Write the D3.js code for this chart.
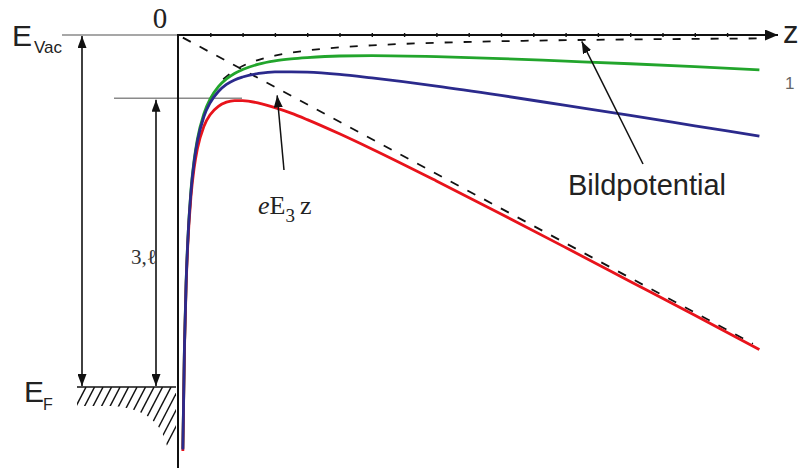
<!DOCTYPE html>
<html>
<head>
<meta charset="utf-8">
<script src="https://cdn.jsdelivr.net/npm/d3@7"></script>
<style>
  html, body { margin: 0; padding: 0; background: #fff; }
  svg { display: block; }
</style>
</head>
<body>
<svg id="chart" width="799" height="469"></svg>
<script>
// Potential energy in front of a metal surface: image potential plus applied fields.
// z in tick units, energy in the same length units below the vacuum level (E_Vac = 0).

const zSamples = [0.15, 0.2, 0.25, 0.3, 0.4, 0.5, 0.6, 0.8, 1.0, 1.25, 1.5, 1.75, 2, 2.5, 3, 3.5, 4, 5, 6, 8, 10, 12, 14, 16, 18];

// weak field (green)
const greenEnergy = [-12.81, -9.61, -7.69, -6.42, -4.82, -3.87, -3.23, -2.44, -1.97, -1.60, -1.36, -1.19, -1.07, -0.90, -0.80, -0.74, -0.70, -0.65, -0.64, -0.67, -0.73, -0.81, -0.89, -0.98, -1.08];
// medium field (blue)
const blueEnergy  = [-12.83, -9.63, -7.72, -6.45, -4.87, -3.92, -3.30, -2.53, -2.09, -1.75, -1.53, -1.39, -1.30, -1.19, -1.14, -1.14, -1.15, -1.22, -1.33, -1.58, -1.87, -2.18, -2.49, -2.81, -3.13];
// strong field (red)
const redEnergy   = [-12.88, -9.71, -7.81, -6.56, -5.01, -4.11, -3.52, -2.83, -2.46, -2.21, -2.08, -2.03, -2.03, -2.11, -2.25, -2.42, -2.62, -3.06, -3.53, -4.52, -5.54, -6.58, -7.63, -8.68, -9.74];

// image potential alone (dashed)
const imageZ      = [1.4, 1.75, 2, 2.5, 3, 4, 5, 6, 8, 10, 12, 14, 16, 18];
const imageEnergy = [-1.371, -1.097, -0.96, -0.768, -0.64, -0.48, -0.384, -0.32, -0.24, -0.192, -0.16, -0.137, -0.12, -0.107];

// field term eE3 z alone (dashed straight line)
const fieldZ      = [0.15, 17.8];
const fieldEnergy = [-0.08, -9.56];

// tick marks along the z axis
const zTicks = d3.range(1, 18);

// reference levels
const levelVac = 0;
const levelBarrier = -1.96;
const levelFermi = -10.9;

const svg = d3.select("#chart");
const x = d3.scaleLinear().domain([0, 18]).range([178, 759.4]);
const y = d3.scaleLinear().domain([0, -13]).range([35, 35 + 13 * 32.3]);

const SANS = "'Liberation Sans', Arial, Helvetica, sans-serif";
const SERIF = "'Liberation Serif', 'Times New Roman', serif";

// arrowhead markers
const defs = svg.append("defs");
function marker(id, len, half) {
  defs.append("marker")
    .attr("id", id)
    .attr("viewBox", `0 ${-half} ${len} ${2 * half}`)
    .attr("refX", len).attr("refY", 0)
    .attr("markerWidth", len).attr("markerHeight", 2 * half)
    .attr("markerUnits", "userSpaceOnUse")
    .attr("orient", "auto-start-reverse")
    .append("path")
    .attr("d", `M0,${-half}L${len},0L0,${half}Z`)
    .attr("fill", "#111");
}
marker("head", 12, 4.5);
marker("headAxis", 13, 5.5);

// grey reference lines (vacuum level and lowered barrier)
svg.append("line")
  .attr("x1", 62).attr("x2", x(0))
  .attr("y1", y(levelVac)).attr("y2", y(levelVac))
  .attr("stroke", "#8a8a8a").attr("stroke-width", 1.5);
svg.append("line")
  .attr("x1", 114).attr("x2", 242)
  .attr("y1", y(levelBarrier)).attr("y2", y(levelBarrier))
  .attr("stroke", "#8a8a8a").attr("stroke-width", 1.5);

// Fermi level with hatched metal
const fermiY = y(levelFermi);
defs.append("clipPath").attr("id", "metalClip")
  .append("path")
  .attr("d", `M77,${fermiY}H176V440L167,446C162,425 148,408 112,406H77Z`);
const hatch = svg.append("g").attr("clip-path", "url(#metalClip)");
d3.range(86, 215, 8.5).forEach(x0 => {
  hatch.append("line")
    .attr("x1", x0).attr("y1", fermiY)
    .attr("x2", x0 - 0.52 * 80).attr("y2", fermiY + 80)
    .attr("stroke", "#111").attr("stroke-width", 1.4);
});
svg.append("line")
  .attr("x1", 77).attr("x2", 176)
  .attr("y1", fermiY).attr("y2", fermiY)
  .attr("stroke", "#111").attr("stroke-width", 1.6);

// energy difference arrows
svg.append("line")
  .attr("x1", 82).attr("x2", 82)
  .attr("y1", y(levelVac) + 1).attr("y2", fermiY - 1)
  .attr("stroke", "#111").attr("stroke-width", 1.6)
  .attr("marker-start", "url(#head)").attr("marker-end", "url(#head)");
svg.append("line")
  .attr("x1", 156).attr("x2", 156)
  .attr("y1", y(levelBarrier) + 1.5).attr("y2", fermiY - 1)
  .attr("stroke", "#111").attr("stroke-width", 1.6)
  .attr("marker-start", "url(#head)").attr("marker-end", "url(#head)");

// dashed reference curves
const line = d3.line().x(d => x(d[0])).y(d => y(d[1]));
const curve = d3.line().x(d => x(d[0])).y(d => y(d[1])).curve(d3.curveMonotoneX);

svg.append("path")
  .datum(fieldZ.map((z, i) => [z, fieldEnergy[i]]))
  .attr("d", line)
  .attr("fill", "none").attr("stroke", "#111")
  .attr("stroke-width", 1.8).attr("stroke-dasharray", "9,10");
svg.append("path")
  .datum(imageZ.map((z, i) => [z, imageEnergy[i]]))
  .attr("d", curve)
  .attr("fill", "none").attr("stroke", "#111")
  .attr("stroke-width", 1.8).attr("stroke-dasharray", "8,11");

// total potential for the three fields
[[greenEnergy, "#22a52c"], [redEnergy, "#e8131b"], [blueEnergy, "#2b2a8c"]].forEach(([vals, col]) => {
  svg.append("path")
    .datum(zSamples.map((z, i) => [z, vals[i]]))
    .attr("d", curve)
    .attr("fill", "none").attr("stroke", col)
    .attr("stroke-width", 2.8).attr("stroke-linecap", "butt");
});

// axes
svg.append("line")
  .attr("x1", x(0)).attr("x2", x(0))
  .attr("y1", y(levelVac) - 1).attr("y2", 468)
  .attr("stroke", "#111").attr("stroke-width", 2);
svg.append("line")
  .attr("x1", x(0) - 1).attr("x2", 778)
  .attr("y1", y(levelVac)).attr("y2", y(levelVac))
  .attr("stroke", "#111").attr("stroke-width", 2)
  .attr("marker-end", "url(#headAxis)");
const axisG = svg.append("g")
  .attr("transform", `translate(0,${y(levelVac) - 2})`)
  .call(d3.axisBottom(x).tickValues(zTicks).tickSize(4).tickFormat(""));
axisG.select(".domain").remove();
axisG.selectAll(".tick line").attr("stroke", "#111").attr("stroke-width", 1.4);

// annotation pointers
svg.append("line")
  .attr("x1", 643).attr("y1", 164)
  .attr("x2", x(12.5)).attr("y2", y(-0.2))
  .attr("stroke", "#111").attr("stroke-width", 1.5)
  .attr("marker-end", "url(#head)");
svg.append("line")
  .attr("x1", 284).attr("y1", 170)
  .attr("x2", x(3.07)).attr("y2", y(-1.87))
  .attr("stroke", "#111").attr("stroke-width", 1.5)
  .attr("marker-end", "url(#head)");

// labels
svg.append("text").attr("x", 160).attr("y", 28)
  .attr("text-anchor", "middle")
  .attr("font-family", SERIF).attr("font-size", 29).attr("fill", "#222")
  .text("0");
svg.append("text").attr("x", 783).attr("y", 43)
  .attr("font-family", SANS).attr("font-size", 31).attr("fill", "#222")
  .text("z");
svg.append("text").attr("x", 785).attr("y", 89)
  .attr("font-family", SANS).attr("font-size", 17).attr("fill", "#666")
  .text("1");

svg.append("text").attr("x", 12).attr("y", 46)
  .attr("font-family", SANS).attr("font-size", 30).attr("fill", "#222")
  .text("E");
svg.append("text").attr("x", 34).attr("y", 53)
  .attr("font-family", SANS).attr("font-size", 17).attr("fill", "#222")
  .text("Vac");
svg.append("text").attr("x", 24).attr("y", 402)
  .attr("font-family", SANS).attr("font-size", 30).attr("fill", "#222")
  .text("E");
svg.append("text").attr("x", 43).attr("y", 410)
  .attr("font-family", SANS).attr("font-size", 16).attr("fill", "#222")
  .text("F");

svg.append("text").attr("x", 131).attr("y", 264)
  .attr("font-family", SERIF).attr("font-size", 21).attr("fill", "#333")
  .text("3,ℓ");

const eq = svg.append("text").attr("x", 258).attr("y", 214)
  .attr("font-family", SERIF).attr("font-size", 26).attr("fill", "#222");
eq.append("tspan").attr("font-style", "italic").text("e");
eq.append("tspan").text("E");
eq.append("tspan").attr("font-size", 19).attr("dy", 8).text("3");
eq.append("tspan").attr("dy", -8).attr("dx", 5).text("z");

svg.append("text").attr("x", 568).attr("y", 195)
  .attr("font-family", SANS).attr("font-size", 29).attr("fill", "#222")
  .text("Bildpotential");
</script>
</body>
</html>
